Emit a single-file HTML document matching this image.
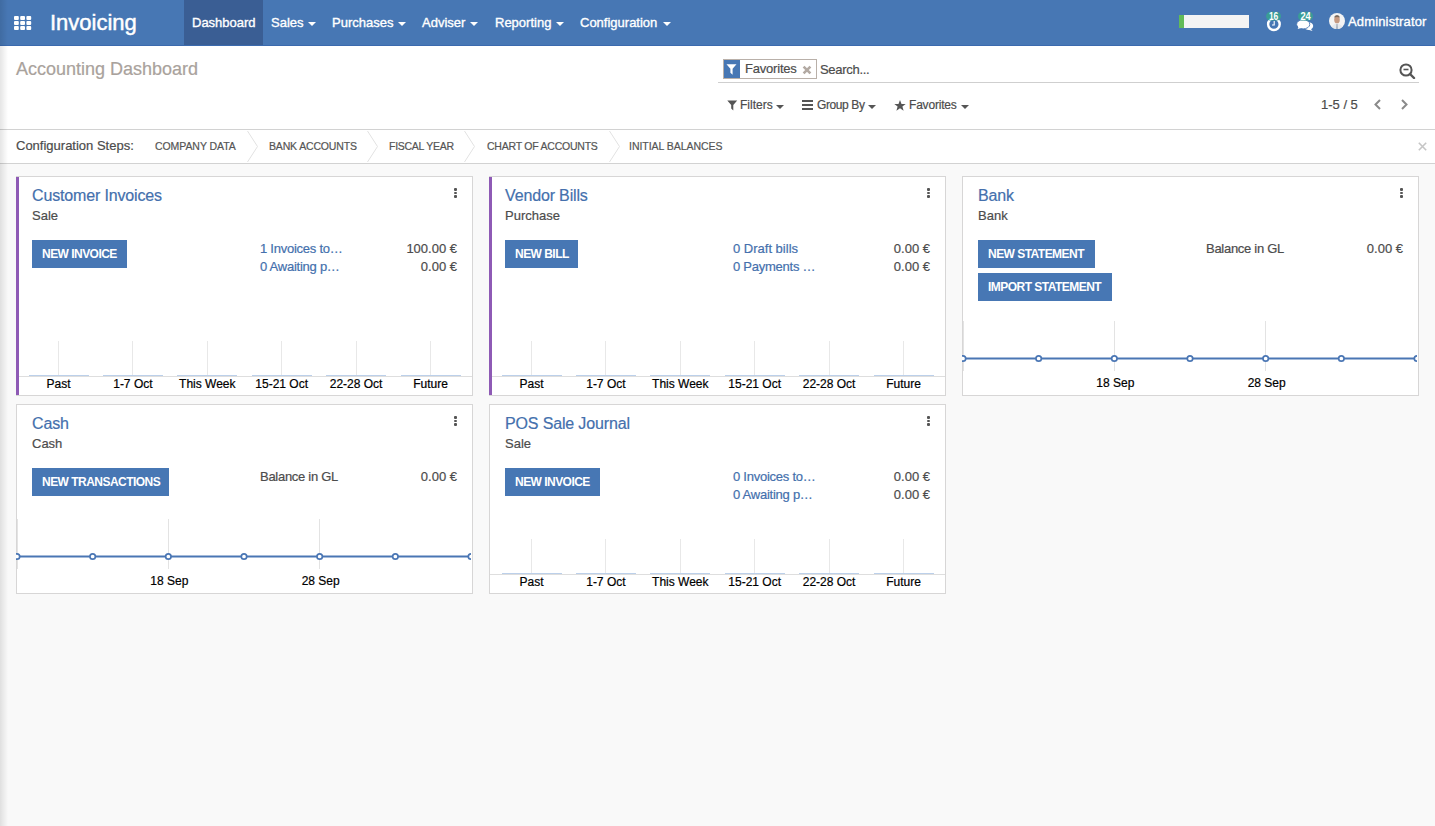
<!DOCTYPE html>
<html><head><meta charset="utf-8">
<style>
*{margin:0;padding:0;box-sizing:border-box}
body *{-webkit-text-stroke:0.2px currentColor}
html,body{width:1435px;height:826px;overflow:hidden;background:#f9f9f9;font-family:"Liberation Sans",sans-serif;color:#4c4c4c}
.a{position:absolute;white-space:nowrap}
#nav{position:absolute;left:0;top:0;width:1435px;height:46px;background:#4777b4;border-bottom:1px solid #3b6aae}
#nav .t{position:absolute;color:#fff;font-size:13px;line-height:15px;white-space:nowrap;-webkit-text-stroke:0.35px #fff}
.caret{position:absolute;width:0;height:0;border-left:4px solid transparent;border-right:4px solid transparent;border-top:4px solid #fff}
#cp{position:absolute;left:0;top:46px;width:1435px;height:84px;background:#fff;border-bottom:1px solid #d2d2d2}
#steps{position:absolute;left:0;top:130px;width:1435px;height:34px;background:#fff;border-bottom:1px solid #d2d2d2}
.card{position:absolute;background:#fff;border:1px solid #d7d6d6;width:457px}
.card.pur{border-left:3px solid #8e5ab5}
.ttl{position:absolute;font-size:16px;line-height:18px;color:#4470ad;white-space:nowrap;letter-spacing:-0.15px}
.sub{position:absolute;font-size:13px;line-height:15px;color:#4c4c4c;white-space:nowrap}
.btn{position:absolute;height:28px;background:#4777b4;color:#fff;font-size:12px;font-weight:bold;line-height:28px;padding:0 0 0 10px;white-space:nowrap;letter-spacing:-0.53px;-webkit-text-stroke:0}
.lnk{position:absolute;font-size:13px;line-height:15px;color:#4470ad;white-space:nowrap;letter-spacing:-0.25px}
.amt{position:absolute;font-size:13px;line-height:15px;color:#4c4c4c;white-space:nowrap;text-align:right}
.dots{position:absolute;width:3px;height:10px}
.dots i{display:block;width:3px;height:2.5px;background:#555;margin-bottom:1px;border-radius:1px}
.lbl{position:absolute;font-size:12px;line-height:14px;color:#000;white-space:nowrap;text-align:center}
.stp{top:10px;font-size:10.5px;line-height:13px;color:#555;letter-spacing:-0.15px}
#shadow{position:absolute;left:0;top:0;width:8px;height:826px;background:linear-gradient(to right,rgba(0,0,0,0.10),rgba(0,0,0,0))}
</style></head><body>

<div id="nav">
  <!-- app grid icon -->
  <svg class="a" style="left:14px;top:16px" width="18" height="14" viewBox="0 0 18 14">
    <g fill="#fff">
      <rect x="0" y="0" width="4.8" height="4" rx="1"/><rect x="6.2" y="0" width="4.8" height="4" rx="1"/><rect x="12.4" y="0" width="4.8" height="4" rx="1"/>
      <rect x="0" y="5" width="4.8" height="4" rx="1"/><rect x="6.2" y="5" width="4.8" height="4" rx="1"/><rect x="12.4" y="5" width="4.8" height="4" rx="1"/>
      <rect x="0" y="10" width="4.8" height="4" rx="1"/><rect x="6.2" y="10" width="4.8" height="4" rx="1"/><rect x="12.4" y="10" width="4.8" height="4" rx="1"/>
    </g>
  </svg>
  <div class="t" style="left:50px;top:9.5px;font-size:22px;line-height:25px;-webkit-text-stroke:0.45px #fff">Invoicing</div>
  <div style="position:absolute;left:184px;top:0;width:79px;height:45px;background:#3a5e94"></div>
  <div class="t" style="left:192px;top:15px">Dashboard</div>
  <div class="t" style="left:271px;top:15px">Sales</div><div class="caret" style="left:308px;top:22px"></div>
  <div class="t" style="left:332px;top:15px">Purchases</div><div class="caret" style="left:398px;top:22px"></div>
  <div class="t" style="left:422px;top:15px">Adviser</div><div class="caret" style="left:470px;top:22px"></div>
  <div class="t" style="left:495px;top:15px">Reporting</div><div class="caret" style="left:556px;top:22px"></div>
  <div class="t" style="left:580px;top:15px">Configuration</div><div class="caret" style="left:663px;top:22px"></div>

  <!-- progress -->
  <div style="position:absolute;left:1179px;top:15px;width:70px;height:13px;background:#f4f4f4"></div>
  <div style="position:absolute;left:1179px;top:15px;width:5px;height:13px;background:#62bb58"></div>
  <!-- clock -->
  <svg class="a" style="left:1264px;top:10px" width="20" height="24" viewBox="0 0 20 24">
    <circle cx="9.9" cy="14.2" r="5.8" fill="none" stroke="#fff" stroke-width="2.4"/>
    <path d="M10.2 11 V15 H8" fill="none" stroke="#fff" stroke-width="1.1"/>
    <rect x="2.1" y="1.8" width="14.9" height="8.7" rx="4.35" fill="#3a9d96"/>
    <text x="9.6" y="9.6" font-family="Liberation Sans" font-weight="bold" font-size="10" fill="#fff" text-anchor="middle" textLength="9.4" lengthAdjust="spacingAndGlyphs" style="-webkit-text-stroke:0.4px #fff">16</text>
  </svg>
  <!-- chat -->
  <svg class="a" style="left:1296px;top:10px" width="20" height="24" viewBox="0 0 20 24">
    <ellipse cx="12.3" cy="16.1" rx="4.9" ry="3.9" fill="#fff"/>
    <path d="M14.5 18.5 L16.6 21 L11.5 19.6 Z" fill="#fff"/>
    <ellipse cx="7.2" cy="14.3" rx="6.6" ry="4.6" fill="#fff" stroke="#4777b4" stroke-width="0.9"/>
    <path d="M2.6 16.8 L1.6 19 L6 17.8 Z" fill="#fff"/>
    <rect x="2" y="1.8" width="15" height="8.7" rx="4.35" fill="#3a9d96"/>
    <text x="9.6" y="9.6" font-family="Liberation Sans" font-weight="bold" font-size="10" fill="#fff" text-anchor="middle" textLength="10.4" lengthAdjust="spacingAndGlyphs" style="-webkit-text-stroke:0.4px #fff">24</text>
  </svg>
  <!-- avatar -->
  <svg class="a" style="left:1329px;top:13px" width="16" height="16" viewBox="0 0 16 16">
    <defs><clipPath id="avc"><circle cx="8" cy="8" r="8"/></clipPath></defs>
    <g clip-path="url(#avc)">
    <rect width="16" height="16" fill="#f4f4f4"/>
    <ellipse cx="8" cy="6.8" rx="2.8" ry="3.6" fill="#c69a82"/>
    <path d="M5 4.5 Q5.5 2 8 2 Q10.5 2 11 4.5 Q8 3.5 5 4.5 Z" fill="#7a6a5e"/>
    <path d="M2 16 Q3 11 8 10.5 Q13 11 14 16 Z" fill="#e6e8ec"/>
    <path d="M7.5 11 L8.5 11 L8.8 16 L7.2 16 Z" fill="#9aa4b4"/>
    </g>
  </svg>
  <div class="t" style="left:1348px;top:14px;letter-spacing:0.15px">Administrator</div>
</div>

<div id="cp">
  <div class="a" style="left:16px;top:13px;font-size:18px;line-height:21px;color:#a9a29c">Accounting Dashboard</div>
  <!-- facet -->
  <div style="position:absolute;left:723px;top:13px;width:94px;height:20px;border:1px solid #b9b0a9;background:#fff"></div>
  <div style="position:absolute;left:724px;top:14px;width:16px;height:18px;background:#4777b4"></div>
  <svg class="a" style="left:726px;top:18px" width="11" height="12" viewBox="0 0 11 12"><path d="M0.5 0.3 H10.5 L6.6 4.8 V10.8 L4.4 8.8 V4.8 Z" fill="#fff"/></svg>
  <div class="a" style="left:745px;top:15px;font-size:13px;line-height:15px;color:#4c4c4c;letter-spacing:-0.2px">Favorites</div>
  <svg class="a" style="left:801.5px;top:19px" width="10" height="10" viewBox="0 0 10 10"><path d="M1.6 1.6 L8.4 8.4 M8.4 1.6 L1.6 8.4" stroke="#b3aaa3" stroke-width="2.6"/></svg>
  <div class="a" style="left:820px;top:16px;font-size:13px;line-height:15px;color:#4c4c4c;letter-spacing:-0.3px">Search...</div>
  <div style="position:absolute;left:718px;top:36px;width:701px;height:1px;background:#cfcfcf"></div>
  <svg class="a" style="left:1399px;top:17px" width="17" height="16" viewBox="0 0 17 16"><circle cx="7" cy="7" r="5.6" fill="none" stroke="#555" stroke-width="2"/><path d="M4.5 6.5 H9.5" stroke="#555" stroke-width="1.6"/><path d="M11 11 L15 15" stroke="#555" stroke-width="2.4" stroke-linecap="round"/></svg>
  <!-- filters row -->
  <svg class="a" style="left:727px;top:54px" width="11" height="11" viewBox="0 0 11 11"><path d="M0.3 0.5 H10.2 L6.3 5 V10.5 L4.2 8.6 V5 Z" fill="#555"/></svg>
  <div class="a" style="left:740px;top:52px;font-size:12px;line-height:14px;color:#4c4c4c">Filters</div>
  <div class="caret" style="left:776px;top:59px;border-top-color:#555"></div>
  <svg class="a" style="left:802px;top:54px" width="11" height="10" viewBox="0 0 11 10"><path d="M0 1 H11 M0 5 H11 M0 9 H11" stroke="#555" stroke-width="1.8"/></svg>
  <div class="a" style="left:817px;top:52px;font-size:12px;line-height:14px;color:#4c4c4c;letter-spacing:-0.4px">Group By</div>
  <div class="caret" style="left:868px;top:59px;border-top-color:#555"></div>
  <svg class="a" style="left:894px;top:54px" width="12" height="11" viewBox="0 0 12 11"><path d="M6 0 L7.5 3.9 L11.7 4 L8.4 6.6 L9.6 10.7 L6 8.3 L2.4 10.7 L3.6 6.6 L0.3 4 L4.5 3.9 Z" fill="#555"/></svg>
  <div class="a" style="left:909px;top:52px;font-size:12px;line-height:14px;color:#4c4c4c;letter-spacing:-0.2px">Favorites</div>
  <div class="caret" style="left:961px;top:59px;border-top-color:#555"></div>
  <!-- pager -->
  <div class="a" style="left:1321px;top:51px;font-size:13px;line-height:15px;color:#4c4c4c">1-5 / 5</div>
  <svg class="a" style="left:1373px;top:53px" width="9" height="11" viewBox="0 0 9 11"><path d="M7 1 L2.5 5.5 L7 10" fill="none" stroke="#8a8a8a" stroke-width="2"/></svg>
  <svg class="a" style="left:1400px;top:53px" width="9" height="11" viewBox="0 0 9 11"><path d="M2 1 L6.5 5.5 L2 10" fill="none" stroke="#8a8a8a" stroke-width="2"/></svg>
</div>

<div id="steps">
  <div class="a" style="left:16px;top:8px;font-size:13px;line-height:15px;color:#4c4c4c">Configuration Steps:</div>
  <div class="a stp" style="left:155px;letter-spacing:-0.07px">COMPANY DATA</div><svg class="a" style="left:247px;top:0" width="12" height="33" viewBox="0 0 12 33"><path d="M0.5 1 L10.5 16.5 L0.5 32" fill="none" stroke="#e2e2e2" stroke-width="1"/></svg>
  <div class="a stp" style="left:269px;letter-spacing:-0.16px">BANK ACCOUNTS</div><svg class="a" style="left:367px;top:0" width="12" height="33" viewBox="0 0 12 33"><path d="M0.5 1 L10.5 16.5 L0.5 32" fill="none" stroke="#e2e2e2" stroke-width="1"/></svg>
  <div class="a stp" style="left:389px;letter-spacing:-0.27px">FISCAL YEAR</div><svg class="a" style="left:464px;top:0" width="12" height="33" viewBox="0 0 12 33"><path d="M0.5 1 L10.5 16.5 L0.5 32" fill="none" stroke="#e2e2e2" stroke-width="1"/></svg>
  <div class="a stp" style="left:487px;letter-spacing:-0.23px">CHART OF ACCOUNTS</div><svg class="a" style="left:609px;top:0" width="12" height="33" viewBox="0 0 12 33"><path d="M0.5 1 L10.5 16.5 L0.5 32" fill="none" stroke="#e2e2e2" stroke-width="1"/></svg>
  <div class="a stp" style="left:629px;letter-spacing:-0.04px">INITIAL BALANCES</div>
  <svg class="a" style="left:1418px;top:12px" width="9" height="9" viewBox="0 0 9 9"><path d="M0.8 0.8 L8.2 8.2 M8.2 0.8 L0.8 8.2" stroke="#c6c6c6" stroke-width="1.6"/></svg>
</div>

<!--CARDS-->
<div class="card" style="left:16px;top:176px;height:220px">
<div class="ttl" style="left:15px;top:10px">Customer Invoices</div>
<div class="sub" style="left:15px;top:31px">Sale</div>
<div class="btn" style="left:15px;top:63px;width:95px">NEW INVOICE</div>
<div class="lnk" style="left:243px;top:64px">1 Invoices to…</div>
<div class="amt" style="left:340px;top:64px;width:100px">100.00 €</div>
<div class="lnk" style="left:243px;top:82px">0 Awaiting p…</div>
<div class="amt" style="left:340px;top:82px;width:100px">0.00 €</div>
<div class="dots" style="left:437px;top:11px"><i></i><i></i><i></i></div>
<div style="position:absolute;left:0px;top:199px;width:455px;height:1px;background:#dedede"></div>
<div style="position:absolute;left:41.0px;top:164px;width:1px;height:35px;background:#e8e8e8"></div>
<div style="position:absolute;left:11.5px;top:198px;width:60px;height:1px;background:#bcd0ea"></div>
<div class="lbl" style="left:1.5px;top:200px;width:80px">Past</div>
<div style="position:absolute;left:115.4px;top:164px;width:1px;height:35px;background:#e8e8e8"></div>
<div style="position:absolute;left:85.9px;top:198px;width:60px;height:1px;background:#bcd0ea"></div>
<div class="lbl" style="left:75.9px;top:200px;width:80px">1-7 Oct</div>
<div style="position:absolute;left:189.8px;top:164px;width:1px;height:35px;background:#e8e8e8"></div>
<div style="position:absolute;left:160.3px;top:198px;width:60px;height:1px;background:#bcd0ea"></div>
<div class="lbl" style="left:150.3px;top:200px;width:80px">This Week</div>
<div style="position:absolute;left:264.2px;top:164px;width:1px;height:35px;background:#e8e8e8"></div>
<div style="position:absolute;left:234.7px;top:198px;width:60px;height:1px;background:#bcd0ea"></div>
<div class="lbl" style="left:224.7px;top:200px;width:80px">15-21 Oct</div>
<div style="position:absolute;left:338.6px;top:164px;width:1px;height:35px;background:#e8e8e8"></div>
<div style="position:absolute;left:309.1px;top:198px;width:60px;height:1px;background:#bcd0ea"></div>
<div class="lbl" style="left:299.1px;top:200px;width:80px">22-28 Oct</div>
<div style="position:absolute;left:413.0px;top:164px;width:1px;height:35px;background:#e8e8e8"></div>
<div style="position:absolute;left:383.5px;top:198px;width:60px;height:1px;background:#bcd0ea"></div>
<div class="lbl" style="left:373.5px;top:200px;width:80px">Future</div>
<div style="position:absolute;left:-1px;top:0px;width:3px;height:218px;background:#8e5ab5"></div>
</div>
<div class="card" style="left:489px;top:176px;height:220px">
<div class="ttl" style="left:15px;top:10px">Vendor Bills</div>
<div class="sub" style="left:15px;top:31px">Purchase</div>
<div class="btn" style="left:15px;top:63px;width:73px">NEW BILL</div>
<div class="lnk" style="left:243px;top:64px"><span style="letter-spacing:0">0 Draft bills</span></div>
<div class="amt" style="left:340px;top:64px;width:100px">0.00 €</div>
<div class="lnk" style="left:243px;top:82px">0 Payments <span style="letter-spacing:-1px">…</span></div>
<div class="amt" style="left:340px;top:82px;width:100px">0.00 €</div>
<div class="dots" style="left:437px;top:11px"><i></i><i></i><i></i></div>
<div style="position:absolute;left:0px;top:199px;width:455px;height:1px;background:#dedede"></div>
<div style="position:absolute;left:41.0px;top:164px;width:1px;height:35px;background:#e8e8e8"></div>
<div style="position:absolute;left:11.5px;top:198px;width:60px;height:1px;background:#bcd0ea"></div>
<div class="lbl" style="left:1.5px;top:200px;width:80px">Past</div>
<div style="position:absolute;left:115.4px;top:164px;width:1px;height:35px;background:#e8e8e8"></div>
<div style="position:absolute;left:85.9px;top:198px;width:60px;height:1px;background:#bcd0ea"></div>
<div class="lbl" style="left:75.9px;top:200px;width:80px">1-7 Oct</div>
<div style="position:absolute;left:189.8px;top:164px;width:1px;height:35px;background:#e8e8e8"></div>
<div style="position:absolute;left:160.3px;top:198px;width:60px;height:1px;background:#bcd0ea"></div>
<div class="lbl" style="left:150.3px;top:200px;width:80px">This Week</div>
<div style="position:absolute;left:264.2px;top:164px;width:1px;height:35px;background:#e8e8e8"></div>
<div style="position:absolute;left:234.7px;top:198px;width:60px;height:1px;background:#bcd0ea"></div>
<div class="lbl" style="left:224.7px;top:200px;width:80px">15-21 Oct</div>
<div style="position:absolute;left:338.6px;top:164px;width:1px;height:35px;background:#e8e8e8"></div>
<div style="position:absolute;left:309.1px;top:198px;width:60px;height:1px;background:#bcd0ea"></div>
<div class="lbl" style="left:299.1px;top:200px;width:80px">22-28 Oct</div>
<div style="position:absolute;left:413.0px;top:164px;width:1px;height:35px;background:#e8e8e8"></div>
<div style="position:absolute;left:383.5px;top:198px;width:60px;height:1px;background:#bcd0ea"></div>
<div class="lbl" style="left:373.5px;top:200px;width:80px">Future</div>
<div style="position:absolute;left:-1px;top:0px;width:3px;height:218px;background:#8e5ab5"></div>
</div>
<div class="card" style="left:962px;top:176px;height:220px">
<div class="ttl" style="left:15px;top:10px">Bank</div>
<div class="sub" style="left:15px;top:31px">Bank</div>
<div class="btn" style="left:15px;top:63px;width:117px">NEW STATEMENT</div>
<div class="btn" style="left:15px;top:96px;width:134px">IMPORT STATEMENT</div>
<div class="sub" style="left:243px;top:64px"><span style="letter-spacing:-0.28px">Balance in GL</span></div>
<div class="amt" style="left:340px;top:64px;width:100px">0.00 €</div>
<div class="dots" style="left:437px;top:11px"><i></i><i></i><i></i></div>
<div style="position:absolute;left:-0.5px;top:144px;width:1px;height:50px;background:#e3e3e3"></div>
<div style="position:absolute;left:150.8px;top:144px;width:1px;height:50px;background:#e3e3e3"></div>
<div style="position:absolute;left:302.2px;top:144px;width:1px;height:50px;background:#e3e3e3"></div>
<div class="lbl" style="left:112.3px;top:199px;width:80px">18 Sep</div>
<div class="lbl" style="left:263.7px;top:199px;width:80px">28 Sep</div>
<svg style="position:absolute;left:-1px;top:144px;overflow:hidden" width="455" height="50" viewBox="0 0 455 50"><path d="M0 37.5 H455" stroke="#4a76b4" stroke-width="2"/><circle cx="1.00" cy="37.5" r="2.7" fill="#fff" stroke="#4a76b4" stroke-width="1.7"/><circle cx="76.67" cy="37.5" r="2.7" fill="#fff" stroke="#4a76b4" stroke-width="1.7"/><circle cx="152.34" cy="37.5" r="2.7" fill="#fff" stroke="#4a76b4" stroke-width="1.7"/><circle cx="228.01" cy="37.5" r="2.7" fill="#fff" stroke="#4a76b4" stroke-width="1.7"/><circle cx="303.68" cy="37.5" r="2.7" fill="#fff" stroke="#4a76b4" stroke-width="1.7"/><circle cx="379.35" cy="37.5" r="2.7" fill="#fff" stroke="#4a76b4" stroke-width="1.7"/><circle cx="455.02" cy="37.5" r="2.7" fill="#fff" stroke="#4a76b4" stroke-width="1.7"/></svg>
</div>
<div class="card" style="left:16px;top:404px;height:190px">
<div class="ttl" style="left:15px;top:10px">Cash</div>
<div class="sub" style="left:15px;top:31px">Cash</div>
<div class="btn" style="left:15px;top:63px;width:137px">NEW TRANSACTIONS</div>
<div class="sub" style="left:243px;top:64px"><span style="letter-spacing:-0.28px">Balance in GL</span></div>
<div class="amt" style="left:340px;top:64px;width:100px">0.00 €</div>
<div class="dots" style="left:437px;top:11px"><i></i><i></i><i></i></div>
<div style="position:absolute;left:-0.5px;top:114px;width:1px;height:50px;background:#e3e3e3"></div>
<div style="position:absolute;left:150.8px;top:114px;width:1px;height:50px;background:#e3e3e3"></div>
<div style="position:absolute;left:302.2px;top:114px;width:1px;height:50px;background:#e3e3e3"></div>
<div class="lbl" style="left:112.3px;top:169px;width:80px">18 Sep</div>
<div class="lbl" style="left:263.7px;top:169px;width:80px">28 Sep</div>
<svg style="position:absolute;left:-1px;top:114px;overflow:hidden" width="455" height="50" viewBox="0 0 455 50"><path d="M0 37.5 H455" stroke="#4a76b4" stroke-width="2"/><circle cx="1.00" cy="37.5" r="2.7" fill="#fff" stroke="#4a76b4" stroke-width="1.7"/><circle cx="76.67" cy="37.5" r="2.7" fill="#fff" stroke="#4a76b4" stroke-width="1.7"/><circle cx="152.34" cy="37.5" r="2.7" fill="#fff" stroke="#4a76b4" stroke-width="1.7"/><circle cx="228.01" cy="37.5" r="2.7" fill="#fff" stroke="#4a76b4" stroke-width="1.7"/><circle cx="303.68" cy="37.5" r="2.7" fill="#fff" stroke="#4a76b4" stroke-width="1.7"/><circle cx="379.35" cy="37.5" r="2.7" fill="#fff" stroke="#4a76b4" stroke-width="1.7"/><circle cx="455.02" cy="37.5" r="2.7" fill="#fff" stroke="#4a76b4" stroke-width="1.7"/></svg>
</div>
<div class="card" style="left:489px;top:404px;height:190px">
<div class="ttl" style="left:15px;top:10px">POS Sale Journal</div>
<div class="sub" style="left:15px;top:31px">Sale</div>
<div class="btn" style="left:15px;top:63px;width:95px">NEW INVOICE</div>
<div class="lnk" style="left:243px;top:64px">0 Invoices to…</div>
<div class="amt" style="left:340px;top:64px;width:100px">0.00 €</div>
<div class="lnk" style="left:243px;top:82px">0 Awaiting p…</div>
<div class="amt" style="left:340px;top:82px;width:100px">0.00 €</div>
<div class="dots" style="left:437px;top:11px"><i></i><i></i><i></i></div>
<div style="position:absolute;left:0px;top:169px;width:455px;height:1px;background:#dedede"></div>
<div style="position:absolute;left:41.0px;top:134px;width:1px;height:35px;background:#e8e8e8"></div>
<div style="position:absolute;left:11.5px;top:168px;width:60px;height:1px;background:#bcd0ea"></div>
<div class="lbl" style="left:1.5px;top:170px;width:80px">Past</div>
<div style="position:absolute;left:115.4px;top:134px;width:1px;height:35px;background:#e8e8e8"></div>
<div style="position:absolute;left:85.9px;top:168px;width:60px;height:1px;background:#bcd0ea"></div>
<div class="lbl" style="left:75.9px;top:170px;width:80px">1-7 Oct</div>
<div style="position:absolute;left:189.8px;top:134px;width:1px;height:35px;background:#e8e8e8"></div>
<div style="position:absolute;left:160.3px;top:168px;width:60px;height:1px;background:#bcd0ea"></div>
<div class="lbl" style="left:150.3px;top:170px;width:80px">This Week</div>
<div style="position:absolute;left:264.2px;top:134px;width:1px;height:35px;background:#e8e8e8"></div>
<div style="position:absolute;left:234.7px;top:168px;width:60px;height:1px;background:#bcd0ea"></div>
<div class="lbl" style="left:224.7px;top:170px;width:80px">15-21 Oct</div>
<div style="position:absolute;left:338.6px;top:134px;width:1px;height:35px;background:#e8e8e8"></div>
<div style="position:absolute;left:309.1px;top:168px;width:60px;height:1px;background:#bcd0ea"></div>
<div class="lbl" style="left:299.1px;top:170px;width:80px">22-28 Oct</div>
<div style="position:absolute;left:413.0px;top:134px;width:1px;height:35px;background:#e8e8e8"></div>
<div style="position:absolute;left:383.5px;top:168px;width:60px;height:1px;background:#bcd0ea"></div>
<div class="lbl" style="left:373.5px;top:170px;width:80px">Future</div>
</div>
<!--/CARDS-->
<div id="shadow"></div>
</body></html>
